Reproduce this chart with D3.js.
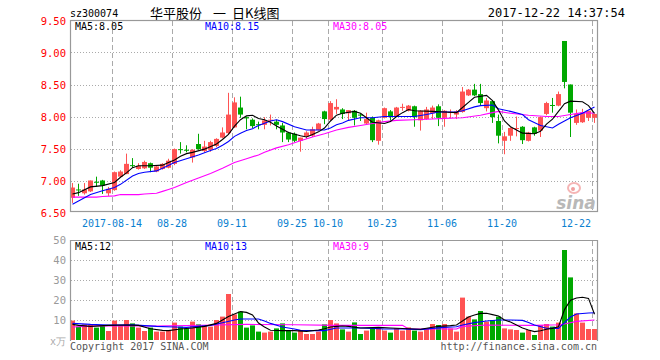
<!DOCTYPE html>
<html><head><meta charset="utf-8">
<script src="https://cdn.jsdelivr.net/npm/d3@7"></script>
<style>body{margin:0;background:#fff}svg{display:block}</style>
</head><body><svg id="c" width="660" height="360"></svg>
<script>
const dates = ["08-03","08-04","08-07","08-08","08-09","08-10","08-11","08-14","08-15","08-16","08-17","08-18","08-21","08-22","08-23","08-24","08-25","08-28","08-29","08-30","08-31","09-01","09-04","09-05","09-06","09-07","09-08","09-11","09-12","09-13","09-14","09-15","09-18","09-19","09-20","09-21","09-22","09-25","09-26","09-27","09-28","09-29","10-09","10-10","10-11","10-12","10-13","10-16","10-17","10-18","10-19","10-20","10-23","10-24","10-25","10-26","10-27","10-30","10-31","11-01","11-02","11-03","11-06","11-07","11-08","11-09","11-10","11-13","11-14","11-15","11-16","11-17","11-20","11-21","11-22","11-23","11-24","11-27","11-28","11-29","11-30","12-01","12-15","12-18","12-19","12-20","12-21","12-22"];
const openP  = [6.73,6.86,6.80,6.83,6.98,7.00,6.80,6.85,7.06,7.10,7.24,7.18,7.19,7.27,7.14,7.18,7.20,7.26,7.49,7.48,7.36,7.57,7.46,7.48,7.54,7.67,7.74,7.83,8.14,7.99,7.95,7.88,7.87,7.94,7.92,7.86,7.75,7.73,7.62,7.69,7.70,7.79,8.08,7.95,8.11,8.11,8.05,8.09,8.03,7.89,7.98,7.62,7.98,8.08,8.00,8.14,8.09,8.16,7.94,7.96,8.05,8.16,7.98,8.06,8.03,8.07,8.33,8.42,8.35,8.13,8.24,7.93,7.62,7.70,7.81,7.84,7.62,7.83,7.78,8.04,8.18,8.17,9.18,8.50,7.90,7.91,7.98,7.98];
const highP  = [6.96,6.95,6.96,7.00,7.06,7.01,6.90,7.14,7.16,7.42,7.35,7.27,7.31,7.28,7.24,7.27,7.34,7.50,7.60,7.55,7.49,7.73,7.62,7.62,7.66,7.83,8.37,8.30,8.31,8.00,7.97,7.92,7.99,8.03,7.95,7.90,7.76,7.75,7.67,7.77,7.84,7.90,8.09,8.24,8.27,8.13,8.10,8.10,8.04,8.06,8.00,7.95,8.14,8.10,8.15,8.20,8.18,8.17,8.10,8.15,8.17,8.19,8.10,8.11,8.10,8.46,8.43,8.51,8.51,8.29,8.25,8.03,7.76,7.83,8.00,7.85,7.76,7.84,8.00,8.23,8.29,8.39,9.18,8.50,8.11,8.12,8.09,8.04];
const lowP   = [6.65,6.76,6.78,6.82,6.90,6.79,6.76,6.84,7.05,7.10,7.20,7.17,7.18,7.13,7.13,7.17,7.19,7.24,7.42,7.44,7.28,7.48,7.44,7.45,7.52,7.66,7.72,7.82,7.98,7.80,7.82,7.80,7.80,7.86,7.80,7.60,7.60,7.60,7.45,7.65,7.68,7.78,7.88,7.94,8.04,7.96,7.93,7.86,7.93,7.88,7.60,7.56,7.97,7.92,7.99,8.09,8.08,7.84,7.78,7.95,7.96,7.85,7.84,7.97,7.96,8.06,8.32,8.32,8.17,8.08,7.90,7.58,7.41,7.62,7.69,7.57,7.61,7.70,7.68,8.02,8.06,8.16,8.44,7.68,7.87,7.90,7.93,7.90];
const closeP = [6.89,6.85,6.86,7.00,6.97,6.92,6.87,7.13,7.14,7.26,7.23,7.23,7.29,7.20,7.22,7.26,7.31,7.49,7.48,7.47,7.48,7.49,7.53,7.60,7.65,7.75,8.03,8.22,8.03,7.97,7.85,7.87,7.94,7.95,7.87,7.75,7.64,7.62,7.67,7.75,7.80,7.89,7.96,8.21,8.15,8.04,8.10,7.98,8.02,7.96,7.63,7.94,8.13,7.99,8.14,8.15,8.17,7.99,8.09,8.11,8.14,7.98,8.09,8.07,8.08,8.39,8.42,8.33,8.21,8.25,7.99,7.70,7.69,7.82,7.82,7.63,7.75,7.73,7.99,8.21,8.17,8.35,8.54,8.06,8.04,8.06,8.09,8.04];
const volume = [9.7,6.7,7.8,7.5,6.2,7.5,4.5,9.7,7.5,10,8.3,6.2,4.5,6.2,4.2,4.2,4.7,8.7,6.7,5.8,9.2,7.8,7.5,6.7,10,11.7,23,12.8,14.2,6.2,7.3,4.2,3.7,4.2,5.8,8.3,5.0,3.7,5.0,3.0,3.0,4.2,7.8,10,8.3,5.3,4.2,8.8,3.0,4.7,5.8,6.2,4.7,3.7,5.8,4.7,6.3,4.7,4.2,5.8,8,7.5,8,5.8,4.2,21.2,11.7,10.3,14.5,9.2,10,11.7,5.8,5.3,5.0,3.7,5.0,2.5,7.5,8,6.7,8.7,45,31.3,13.3,8.7,5.5,5.5];

// moving-average curves as [candle index, value]
const ma5 = [[0,6.79],[1,6.81],[3,6.90],[5,6.92],[7,6.97],[8,7.05],[9,7.12],[10,7.20],[11,7.23],[13,7.23],[15,7.24],[16,7.28],[17,7.32],[18,7.38],[19,7.42],[20,7.44],[22,7.49],[24,7.57],[25,7.64],[26,7.72],[27,7.85],[28,7.95],[29,8.01],[30,8.02],[31,7.97],[32,7.95],[33,7.91],[34,7.85],[35,7.80],[36,7.75],[38,7.70],[39,7.68],[40,7.72],[41,7.76],[42,7.82],[43,7.93],[44,8.02],[45,8.05],[47,8.08],[48,8.05],[49,7.98],[50,7.91],[52,7.89],[53,7.92],[54,8.00],[55,8.06],[56,8.11],[57,8.09],[60,8.08],[62,8.07],[64,8.06],[65,8.14],[66,8.22],[67,8.30],[69,8.33],[70,8.25],[71,8.10],[72,7.93],[73,7.84],[74,7.79],[75,7.74],[77,7.73],[78,7.77],[79,7.88],[80,7.96],[81,8.08],[82,8.20],[83,8.24],[85,8.23],[86,8.17],[87,8.05]];
const ma10 = [[0,6.63],[1,6.68],[3,6.78],[5,6.84],[7,6.89],[8,6.94],[10,7.07],[11,7.11],[12,7.13],[14,7.15],[15,7.19],[17,7.28],[19,7.34],[21,7.40],[23,7.47],[24,7.50],[25,7.55],[26,7.61],[27,7.69],[28,7.74],[29,7.78],[30,7.81],[31,7.86],[33,7.93],[34,7.95],[35,7.92],[37,7.84],[39,7.79],[42,7.79],[43,7.82],[44,7.87],[45,7.90],[46,7.94],[48,7.98],[50,7.98],[52,8.00],[57,8.00],[59,8.03],[61,8.07],[64,8.07],[65,8.09],[67,8.15],[68,8.17],[70,8.18],[71,8.12],[73,8.08],[75,8.03],[76,7.95],[78,7.86],[80,7.82],[81,7.88],[83,7.98],[85,8.05],[86,8.10],[87,8.15]];
const ma30 = [[0,6.74],[4,6.74],[5,6.75],[7,6.76],[8,6.78],[11,6.78],[12,6.79],[14,6.80],[15,6.83],[16,6.86],[17,6.89],[19,6.97],[21,7.04],[23,7.11],[25,7.19],[27,7.28],[29,7.34],[31,7.40],[32,7.44],[34,7.51],[36,7.56],[38,7.62],[40,7.68],[42,7.73],[44,7.79],[46,7.83],[48,7.86],[50,7.89],[52,7.92],[54,7.94],[57,7.95],[60,7.96],[62,7.97],[65,7.98],[68,8.02],[70,8.06],[71,8.08],[73,8.05],[76,8.02],[79,8.00],[81,8.00],[83,8.03],[85,8.06],[87,8.05]];
const vma5 = [[0,7.8],[1,7.3],[3,6.8],[6,7.3],[9,7.5],[11,7.3],[13,5.6],[15,4.8],[16,4.7],[18,5.5],[20,6.0],[22,6.8],[24,8.3],[25,10],[26,11.7],[27,13],[28,14.2],[29,13.8],[30,12.5],[31,8.5],[32,6.5],[33,4.9],[35,4.7],[37,4.7],[39,4.3],[41,5.0],[42,5.6],[43,6.5],[44,6.8],[45,7.0],[46,6.8],[48,6.0],[50,6.2],[51,6.3],[53,6.0],[56,5.6],[58,5.4],[60,6.4],[61,6.8],[63,7.2],[64,7.5],[65,9.5],[66,11.5],[67,12.5],[68,13.3],[69,13.4],[70,12.7],[71,12.0],[72,10.0],[73,9.0],[74,7.5],[75,6.0],[76,5.0],[77,4.2],[78,4.6],[79,5.4],[80,5.8],[81,6.6],[82,15.2],[83,19.9],[84,21.0],[85,21.4],[86,20.8],[87,12.9]];
const vma10 = [[0,8.3],[3,7.8],[6,7.5],[10,7.6],[12,7.2],[14,6.8],[17,6.5],[19,6.3],[21,6.8],[23,7.3],[25,8.6],[27,10],[28,10.5],[31,10.5],[32,9.5],[33,8.3],[35,6.5],[37,5.5],[38,4.8],[40,4.7],[42,4.7],[44,6.0],[46,6.0],[48,6.0],[50,5.8],[52,5.5],[55,5.5],[58,5.2],[60,5.8],[62,6.3],[64,6.6],[65,7.5],[67,8.7],[69,9.5],[71,10.0],[73,10.0],[75,9.8],[76,8.8],[77,7.5],[79,5.9],[81,5.8],[82,8.7],[83,11.5],[84,13.0],[86,13.5],[87,13.6]];
const vma30 = [[0,6.5],[5,7.2],[14,7.0],[24,7.5],[29,7.8],[37,7.6],[44,7.3],[55,7.3],[56,5.5],[64,5.5],[65,6.8],[69,7.5],[77,7.3],[81,7.6],[82,8.0],[84,9.3],[87,10.0]];

const priceTicks = [6.5,7.0,7.5,8.0,8.5,9.0,9.5];
const volTicks = [10,20,30,40,50];
const dateTicks = ["08-14","08-28","09-11","09-25","10-10","10-23","11-06","11-20","12-22"];
const dateTickLabels = ["2017-08-14","08-28","09-11","09-25","10-10","10-23","11-06","11-20","12-22"];
const titleParts = [["华平股份",150],["一",213],["日K线图",232]];

const svg = d3.select("#c");
const MONO = "'DejaVu Sans Mono', monospace";
const RED = "#ff5353", GREEN = "#00a800", GRID = "#aaaaaa";

const x = d3.scaleBand().domain(dates).range([70, 597]).paddingInner(1/6).paddingOuter(0);
const yP = d3.scaleLinear().domain([6.5, 9.5]).range([212.5, 20.5]);
const yV = d3.scaleLinear().domain([0, 50]).range([340, 240]);
const cx = d => x(d) + 2.5;

svg.append("rect").attr("width",660).attr("height",360).attr("fill","#fff");

// header
svg.append("text").attr("x",70).attr("y",17).attr("font-family",MONO).attr("font-size",10).attr("fill","#000").text("sz300074");
titleParts.forEach(([t,xx]) => svg.append("text").attr("x",xx).attr("y",18)
  .attr("font-family","'Noto Sans CJK SC', sans-serif").attr("font-size",13).attr("fill","#000").text(t));
svg.append("text").attr("x",625).attr("y",17).attr("text-anchor","end").attr("font-family",MONO).attr("font-size",12).attr("fill","#000").text("2017-12-22 14:37:54");

// grids
const g = svg.append("g");
g.selectAll("line.hp").data(priceTicks.filter(t => t > 6.5 && t < 9.5)).join("line")
  .attr("x1",71).attr("x2",597).attr("y1",d=>Math.round(yP(d))+0.5).attr("y2",d=>Math.round(yP(d))+0.5)
  .attr("stroke",GRID).attr("stroke-dasharray","1,2");
g.selectAll("line.hv").data(volTicks.filter(t => t < 50)).join("line")
  .attr("x1",71).attr("x2",597).attr("y1",d=>Math.round(yV(d))+0.5).attr("y2",d=>Math.round(yV(d))+0.5)
  .attr("stroke",GRID).attr("stroke-dasharray","1,2");
[[21,211],[241,340]].forEach(([a,b]) => {
  g.append("g").selectAll("line").data(dateTicks).join("line")
    .attr("x1",d=>x(d)+0.5).attr("x2",d=>x(d)+0.5).attr("y1",a).attr("y2",b)
    .attr("stroke",GRID).attr("stroke-dasharray","5,3");
});

// sina watermark
const wm = svg.append("g");
wm.append("ellipse").attr("cx",574).attr("cy",188).attr("rx",6).attr("ry",5).attr("fill","none").attr("stroke","#f5b5b5").attr("stroke-width",2);
wm.append("circle").attr("cx",573).attr("cy",189).attr("r",2).attr("fill","#f0a0a0");
wm.append("text").attr("x",576).attr("y",209).attr("text-anchor","middle").attr("font-family","'DejaVu Sans', sans-serif")
  .attr("font-style","italic").attr("font-weight","bold").attr("font-size",17).attr("fill","#b8b8b8").text("sina");

// candles
const idx = d3.range(dates.length);
const col = i => closeP[i] >= openP[i] ? RED : GREEN;
const cg = svg.append("g");
cg.selectAll("rect.w").data(idx).join("rect")
  .attr("x", i => x(dates[i]) + 2).attr("width", 1)
  .attr("y", i => yP(highP[i])).attr("height", i => Math.max(1, yP(lowP[i]) - yP(highP[i])))
  .attr("fill", col);
cg.selectAll("rect.b").data(idx).join("rect")
  .attr("x", i => x(dates[i])).attr("width", x.bandwidth())
  .attr("y", i => yP(Math.max(openP[i], closeP[i])))
  .attr("height", i => Math.max(1, Math.abs(yP(openP[i]) - yP(closeP[i]))))
  .attr("fill", col);

// price MAs
const lineP = d3.line().x(d => cx(dates[d[0]])).y(d => yP(d[1]));
[[ma30,"#ff00ff"],[ma10,"#0000ff"],[ma5,"#000000"]].forEach(([s,c]) => {
  svg.append("path").attr("d", lineP(s)).attr("fill","none").attr("stroke",c).attr("stroke-width",1.1);
});

// volume bars
svg.append("g").selectAll("rect").data(idx).join("rect")
  .attr("x", i => x(dates[i])).attr("width", x.bandwidth())
  .attr("y", i => yV(volume[i])).attr("height", i => yV(0) - yV(volume[i]))
  .attr("fill", col);
const lineV = d3.line().x(d => cx(dates[d[0]])).y(d => yV(d[1]));
[[vma30,"#ff00ff"],[vma10,"#0000ff"],[vma5,"#000000"]].forEach(([s,c]) => {
  svg.append("path").attr("d", lineV(s)).attr("fill","none").attr("stroke",c).attr("stroke-width",1.1);
});

// frames
svg.append("rect").attr("x",70.5).attr("y",20.5).attr("width",527).attr("height",191)
  .attr("fill","none").attr("stroke","#999").attr("stroke-width",1.2);
svg.append("path").attr("d","M70.5,341V240.5H597.5V341").attr("fill","none").attr("stroke","#999").attr("stroke-width",1.2);

// price axis labels
svg.append("g").selectAll("text").data(priceTicks).join("text")
  .attr("x",66).attr("y",d=>yP(d)+4).attr("text-anchor","end")
  .attr("font-family",MONO).attr("font-size",10.5).attr("fill","#ff0000").text(d=>d.toFixed(2));
// volume axis labels
svg.append("g").selectAll("text").data(volTicks).join("text")
  .attr("x",66).attr("y",d=>yV(d)+4).attr("text-anchor","end")
  .attr("font-family",MONO).attr("font-size",10.5).attr("fill","#999").text(d=>d);
svg.append("text").attr("x",66).attr("y",345).attr("text-anchor","end").attr("font-family",MONO).attr("font-size",10).attr("fill","#aaa").text("x万");

// date labels
svg.append("g").selectAll("text").data(dateTicks).join("text")
  .attr("x",(d,i)=> i === dateTicks.length-1 ? 591 : x(d)).attr("y",227)
  .attr("text-anchor",(d,i)=> i === dateTicks.length-1 ? "end" : "middle")
  .attr("font-family",MONO).attr("font-size",10).attr("fill","#0a7fd0").text((d,i)=>dateTickLabels[i]);

// MA legends
const leg = (y, items) => items.forEach(([t,xx,c]) => svg.append("text").attr("x",xx).attr("y",y)
  .attr("font-family",MONO).attr("font-size",10).attr("fill",c).text(t));
leg(30, [["MA5:8.05",75,"#000"],["MA10:8.15",205,"#0000ff"],["MA30:8.05",333,"#ff00ff"]]);
leg(250, [["MA5:12",75,"#000"],["MA10:13",205,"#0000ff"],["MA30:9",333,"#ff00ff"]]);

// footer
svg.append("text").attr("x",70).attr("y",350).attr("font-family",MONO).attr("font-size",10).attr("fill","#555").text("Copyright 2017 SINA.COM");
svg.append("text").attr("x",597).attr("y",350).attr("text-anchor","end").attr("font-family",MONO).attr("font-size",10).attr("fill","#555").text("http://finance.sina.com.cn");
</script></body></html>
